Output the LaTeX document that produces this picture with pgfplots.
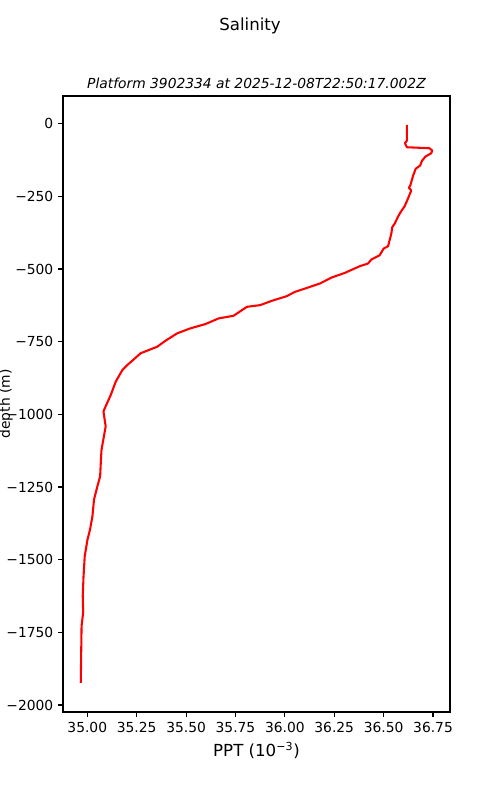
\documentclass[border=0pt]{standalone}
\usepackage{pgfplots}
\pgfplotsset{compat=1.18}
\usepackage{fontspec}
\setmainfont{DejaVu Sans}

% Salinity profile: PPT versus depth (m)
\pgfplotstableread{
ppt     depth
36.618  -4
36.618  -58.3
36.608  -67.6
36.618  -81.3
36.732  -84.7
36.746  -92.6
36.741  -101.9
36.712  -113.2
36.695  -126.9
36.685  -144.1
36.662  -155.4
36.648  -181.8
36.635  -212.7
36.628  -220.6
36.640  -229.8
36.623  -258.3
36.606  -284.7
36.586  -304.3
36.572  -321.4
36.556  -344.1
36.544  -355.7
36.539  -378.4
36.525  -415.1
36.522  -421.9
36.500  -429.8
36.480  -452.8
36.438  -467.6
36.421  -481.3
36.379  -490.6
36.345  -500.9
36.304  -513.5
36.237  -529.4
36.178  -549.9
36.127  -561.6
36.051  -578.8
36.010  -593.5
35.934  -609.6
35.875  -624.4
35.808  -630.2
35.740  -661.1
35.665  -670.0
35.598  -689.5
35.522  -704.3
35.455  -721.4
35.396  -746.8
35.354  -767.4
35.312  -778.7
35.270  -790.0
35.236  -810.6
35.203  -830.2
35.178  -847.3
35.144  -887.5
35.119  -933.1
35.085  -984.6
35.082  -990.4
35.093  -1041.8
35.072  -1121.8
35.069  -1156.1
35.065  -1213.4
35.051  -1247.7
35.034  -1293.3
35.026  -1350.6
35.014  -1396.2
35.001  -1430.5
34.987  -1487.8
34.981  -1556.4
34.977  -1625.0
34.979  -1681.9
34.971  -1727.9
34.967  -1924.0
}\salinity

\begin{document}
\begin{tikzpicture}
\useasboundingbox (0,0) rectangle (5in,8in);
\node[font=\fontsize{12}{14}\selectfont] at (2.5in,7.745in) {Salinity};
\begin{axis}[
  at={(0.63in,0.88in)}, anchor=south west,
  width=3.87in, height=6.16in, scale only axis,
  xmin=34.877, xmax=36.836, ymin=-2024, ymax=95,
  xtick={35,35.25,35.5,35.75,36,36.25,36.5,36.75},
  xticklabels={35.00,35.25,35.50,35.75,36.00,36.25,36.50,36.75},
  ytick={0,-250,-500,-750,-1000,-1250,-1500,-1750,-2000},
  yticklabels={0,−250,−500,−750,−1000,−1250,−1500,−1750,−2000},
  tick align=outside, major tick length=3.5pt,
  tick style={black, line width=0.8pt},
  axis line style={line width=0.8pt},
  xtick pos=bottom, ytick pos=left,
  ticklabel style={font=\fontsize{10}{12}\selectfont},
  /pgf/number format/assume math mode=true,
  every axis title shift=0pt,
  title={Platform 3902334 at 2025-12-08T22:50:17.002Z},
  title style={font=\fontsize{10}{12}\selectfont\itshape,
    at={(axis description cs:0.5,1.0211)}, anchor=center},
  xlabel={PPT (10\textsuperscript{−3})},
  xlabel style={font=\fontsize{12}{14}\selectfont,
    at={(axis description cs:0.5,-0.0617)}, anchor=center},
  ylabel={depth (m)},
  ylabel style={font=\fontsize{10}{12}\selectfont,
    at={(axis description cs:-0.147,0.5)}, anchor=center},
]
\addplot[red, line width=1.5pt, line join=round] table[x=ppt, y=depth] {\salinity};
\end{axis}
\end{tikzpicture}
\end{document}
